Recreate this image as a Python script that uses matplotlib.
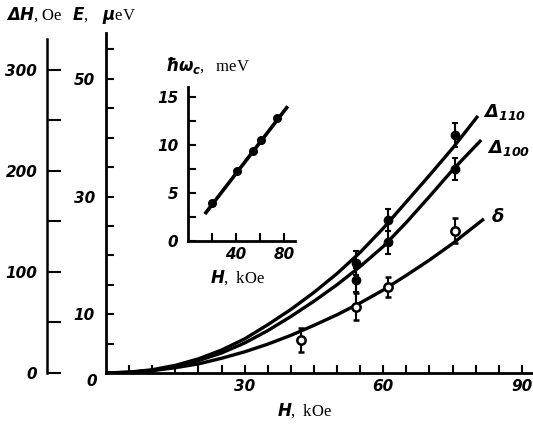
import matplotlib
matplotlib.use("Agg")
import matplotlib.pyplot as plt

plt.rcParams['mathtext.fontset'] = 'custom'
plt.rcParams['mathtext.it'] = 'DejaVu Sans:italic:bold'
plt.rcParams['mathtext.bf'] = 'DejaVu Sans:italic:bold'
plt.rcParams['mathtext.rm'] = 'Liberation Serif'

# measured points (H in kOe, E in ueV)
h_pts = [54.2, 61.0, 75.5]
e_110 = [18.7, 26.0, 40.5]
err_110 = [2.0, 1.8, 2.0]
e_100 = [15.8, 22.2, 34.7]
err_100 = [2.0, 2.0, 1.9]
h_delta = [42.3, 54.2, 61.0, 75.5]
e_delta = [5.6, 11.3, 14.6, 24.2]
err_delta = [2.0, 2.3, 1.7, 2.1]

# curves
h_c110 = [0, 5, 10, 15, 20, 25, 30, 35, 40, 45, 50, 55, 60, 65, 70, 75, 80.5]
e_c110 = [0, 0.15, 0.55, 1.3, 2.4, 3.9, 5.8, 8.2, 10.8, 13.7, 16.9, 20.5, 24.6, 29.1, 33.6, 38.2, 43.7]
h_c100 = [0, 5, 10, 15, 20, 25, 30, 35, 40, 45, 50, 55, 60, 65, 70, 75, 81.2]
e_c100 = [0, 0.12, 0.45, 1.1, 2.1, 3.4, 5.1, 7.2, 9.6, 12.2, 15.0, 18.1, 21.5, 25.6, 30.0, 34.5, 39.6]
h_cd = [0, 5, 10, 15, 20, 25, 30, 35, 40, 45, 50, 55, 60, 65, 70, 75, 81.8]
e_cd = [0, 0.1, 0.4, 0.9, 1.55, 2.5, 3.6, 4.9, 6.4, 8.1, 9.9, 11.9, 14.1, 16.6, 19.2, 22.0, 26.2]

# inset: cyclotron energy
h_in = [20, 40.8, 54, 61, 74]
e_in = [3.96, 7.3, 9.4, 10.5, 12.8]
h_inline = [14, 83]
e_inline = [2.8, 14.0]

W, H = 533, 426
tickfont = {'family': 'DejaVu Sans', 'weight': 'bold', 'style': 'italic', 'size': 11}

fig = plt.figure(figsize=(W / 100, H / 100), dpi=100)


def px(x0, y0, x1, y1):
    """pixel box (left, top, right, bottom) -> figure fraction"""
    return [x0 / W, 1 - y1 / H, (x1 - x0) / W, (y1 - y0) / H]


# main axes
ax = fig.add_axes(px(106, 33, 532, 373))
ax.set_xlim(0, 92.2)
ax.set_ylim(0, 57.8)
for s in ['top', 'right']:
    ax.spines[s].set_visible(False)
for s in ['left', 'bottom']:
    ax.spines[s].set_linewidth(2.0)
ax.patch.set_alpha(0)

xt = list(range(5, 91, 5))
ax.set_xticks(xt)
ax.set_xticklabels([str(v) if v in (30, 60, 90) else '' for v in xt], fontdict=tickfont)
yt = list(range(5, 56, 5))
ax.set_yticks(yt)
ax.set_yticklabels([str(v) if v in (10, 30, 50) else '' for v in yt], fontdict=tickfont)
ax.tick_params(axis='both', direction='in', length=6, width=1.5)
ax.tick_params(axis='x', pad=4)
ax.tick_params(axis='y', pad=8)

lw = 2.4
ax.plot(h_c110, e_c110, color='black', lw=lw, solid_capstyle='butt')
ax.plot(h_c100, e_c100, color='black', lw=lw, solid_capstyle='butt')
ax.plot(h_cd, e_cd, color='black', lw=lw, solid_capstyle='butt')

ax.errorbar(h_pts, e_110, yerr=err_110, fmt='o', color='black', ms=6,
            elinewidth=1.5, capsize=2.5, capthick=1.5)
ax.errorbar(h_pts, e_100, yerr=err_100, fmt='o', color='black', ms=6,
            elinewidth=1.5, capsize=2.5, capthick=1.5)
ax.errorbar(h_delta, e_delta, yerr=err_delta, fmt='o', color='black', mfc='white',
            mew=1.8, ms=6, elinewidth=1.5, capsize=2.5, capthick=1.5)

# curve labels
ax.text(81.6, 43.6, r"$\mathbf{\Delta}_{\mathbf{110}}$", fontsize=13)
ax.text(82.4, 37.4, r"$\mathbf{\Delta}_{\mathbf{100}}$", fontsize=13)
ax.text(83.4, 25.6, r"$\delta$", fontsize=13)

# Delta H axis
ax2 = fig.add_axes(px(47, 33, 48, 373))
ax2.set_ylim(0, 336.6)
ax2.set_xticks([])
for s in ['top', 'right', 'bottom']:
    ax2.spines[s].set_visible(False)
ax2.spines['left'].set_linewidth(1.8)
ax2.spines['left'].set_bounds(0, 331)
ax2.patch.set_alpha(0)
ax2.set_yticks([0, 100, 200, 300])
ax2.set_yticklabels(['0', '100', '200', '300'], fontdict=tickfont)
ax2.set_yticks([50, 150, 250], minor=True)
ax2.tick_params(axis='y', which='both', direction='in', length=10, width=1.5, pad=7)

# axis titles
fig.text(6 / W, 1 - 15 / H, r"$\mathbf{\Delta}H,$Oe", fontsize=12,
         family='Liberation Serif', va='center', ha='left')
fig.text(72 / W, 1 - 15 / H, r"$E,\ \ \mu$eV", fontsize=12,
         family='Liberation Serif', va='center', ha='left')
fig.text(277 / W, 1 - 411 / H, r"$H,$ kOe", fontsize=12,
         family='Liberation Serif', va='center', ha='left')
fig.text(92 / W, 1 - 381 / H, "0", fontdict=tickfont, va='center', ha='center')

# inset
ax3 = fig.add_axes(px(188, 87, 295, 241))
ax3.set_xlim(0, 89)
ax3.set_ylim(0, 16)
for s in ['top', 'right']:
    ax3.spines[s].set_visible(False)
for s in ['left', 'bottom']:
    ax3.spines[s].set_linewidth(2.0)
ax3.patch.set_alpha(0)
ax3.set_xticks([20, 40, 60, 80])
ax3.set_xticklabels(['', '40', '', '80'], fontdict=tickfont)
ax3.set_yticks([0, 5, 10, 15])
ax3.set_yticklabels(['0', '5', '10', '15'], fontdict=tickfont)
ax3.set_yticks([2.5, 7.5, 12.5], minor=True)
ax3.tick_params(axis='both', which='both', direction='in', length=6, width=1.5)
ax3.tick_params(axis='y', which='both', pad=7)
ax3.tick_params(axis='x', pad=4)
ax3.plot(h_inline, e_inline, color='black', lw=2.6, solid_capstyle='butt')
ax3.plot(h_in, e_in, 'o', color='black', ms=5.5)

fig.text(165 / W, 1 - 65 / H, r"$\hbar\omega_c,$  meV", fontsize=12,
         family='Liberation Serif', va='center', ha='left')
fig.text(210 / W, 1 - 278 / H, r"$H,$ kOe", fontsize=12,
         family='Liberation Serif', va='center', ha='left')

fig.savefig('out.png', dpi=100)
